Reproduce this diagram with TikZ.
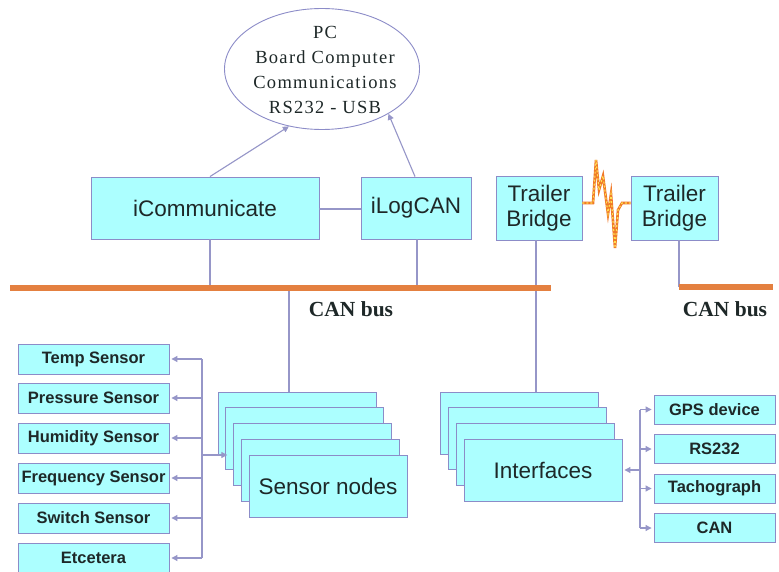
\documentclass[tikz,border=0pt]{standalone}
\usepackage{fontspec}
\setmainfont{Liberation Serif}
\setsansfont{Liberation Sans}
\usetikzlibrary{shapes.geometric,arrows.meta}
\definecolor{boxc}{RGB}{172,255,255}
\definecolor{bordc}{RGB}{140,140,200}
\definecolor{linec}{RGB}{150,150,200}
\definecolor{busc}{RGB}{228,128,64}
\definecolor{boltc}{RGB}{240,120,40}
\definecolor{bolty}{RGB}{255,225,80}
\definecolor{txtc}{RGB}{30,40,40}
\tikzset{
  box/.style={draw=bordc, fill=boxc, line width=0.9pt, inner sep=0pt, text=txtc},
  bigbox/.style={box, font=\sffamily\fontsize{22.5}{25}\selectfont, align=center},
  smallbox/.style={box, font=\sffamily\bfseries\fontsize{16.5}{18}\selectfont},
  stackbox/.style={box, minimum width=158pt, minimum height=62pt},
  conn/.style={draw=linec, line width=1.1pt},
  arr/.style={conn, -{Triangle[length=6pt,width=6pt]}},
  bus/.style={draw=busc, line width=6pt},
  pcell/.style={ellipse, draw=bordc, fill=white, line width=0.9pt, minimum width=195pt, minimum height=121pt, inner sep=0pt},
  bustxt/.style={font=\rmfamily\bfseries\fontsize{21.5}{22}\selectfont, text=txtc, inner sep=0pt}
}
\begin{document}
\begin{tikzpicture}[x=1pt,y=-1pt]
\useasboundingbox (0,0) rectangle (779,572);
\fill[white] (0,0) rectangle (779,572);

% PC ellipse
\node[pcell] (pc) at (322,69) {};
\node[align=center, font=\rmfamily\fontsize{18.5}{25}\selectfont\addfontfeatures{LetterSpace=7}, text=txtc, inner sep=0pt] (pctext) at (325,70)
  {PC\\Board Computer\\Communications\\RS232 - USB};

% top row
\node[bigbox, minimum width=228pt, minimum height=62pt] (icomm) at (205,208) {iCommunicate};
\node[bigbox, minimum width=110pt, minimum height=62pt] (ilog) at (416,208) {iLogCAN};
\node[bigbox, minimum width=86pt, minimum height=64pt] (tb1) at (539,208) {Trailer\\Bridge};
\node[bigbox, minimum width=87pt, minimum height=64pt] (tb2) at (674.5,208) {Trailer\\Bridge};

% arrows to PC
\draw[arr] ([xshift=5pt]icomm.north) -- (pc.240);
\draw[arr] ([xshift=-1pt]ilog.north) -- (pc.326);
\draw[conn] (icomm.east |- 0,209) -- (ilog.west |- 0,209);

% bus coordinates
\coordinate (bL) at (10,288);
\coordinate (bR) at (551,288);
\coordinate (b2L) at (679,287);
\coordinate (b2R) at (773,287);

% sensor node stack
\foreach \i in {0,...,4} {
  \node[stackbox] (s\i) at ({218+7.75*\i+79},{392+15.75*\i+31}) {};
}
\node[font=\sffamily\fontsize{22.5}{25}\selectfont, text=txtc, inner sep=0pt] (snlabel) at (s4.center) {Sensor nodes};

% interfaces stack
\foreach \i in {0,...,3} {
  \node[stackbox] (i\i) at ({440+8*\i+79},{392+15.67*\i+31}) {};
}
\node[font=\sffamily\fontsize{22.5}{25}\selectfont, text=txtc, inner sep=0pt] (iflabel) at (i3.center) {Interfaces};

% vertical connectors to bus
\draw[conn] ([xshift=5pt]icomm.south) -- ([xshift=5pt]icomm.south |- bL);
\draw[conn] ([xshift=1pt]ilog.south) -- ([xshift=1pt]ilog.south |- bL);
\draw[conn] ([xshift=-8pt]s0.north) -- ([xshift=-8pt]s0.north |- bL);
\draw[conn] ([xshift=-3pt]tb1.south) -- ([xshift=-3pt]tb1.south |- i0.north);
\draw[conn] (tb2.south -| b2L) -- (b2L);

% buses
\draw[bus] (bL) -- (bR);
\draw[bus] (b2L) -- (b2R);
\node[bustxt] (cb1) at (351,309) {CAN bus};
\node[bustxt] (cb2) at (725,309) {CAN bus};

% lightning
\draw[boltc, line width=2.6pt, line join=miter]
  ([yshift=5pt]tb1.east) -- (593,203) -- (596,160) -- (599,190) -- (603,176) -- (608,214)
  -- (611,194) -- (615,248) -- (618,210) -- (622,203) -- ([yshift=5pt]tb2.west);
\draw[bolty, line width=1.1pt, dash pattern=on 2pt off 2pt]
  ([yshift=5pt]tb1.east) -- (593,203) -- (596,160) -- (599,190) -- (603,176) -- (608,214)
  -- (611,194) -- (615,248) -- (618,210) -- (622,203) -- ([yshift=5pt]tb2.west);

% sensors
\node[smallbox, minimum width=151pt, minimum height=30pt] (temp) at (93.5,359) {Temp Sensor};
\node[smallbox, minimum width=151pt, minimum height=30pt] (press) at (93.5,398) {Pressure Sensor};
\node[smallbox, minimum width=151pt, minimum height=30pt] (humid) at (93.5,438) {Humidity Sensor};
\node[smallbox, minimum width=151pt, minimum height=30pt] (freq) at (93.5,478) {Frequency Sensor};
\node[smallbox, minimum width=151pt, minimum height=30pt] (swit) at (93.5,518) {Switch Sensor};
\node[smallbox, minimum width=151pt, minimum height=30pt] (etc) at (93.5,558) {Etcetera};

\coordinate (shub) at (202,455);
\draw[conn] (temp.east -| shub) -- (etc.east -| shub);
\foreach \n in {temp,press,humid,freq,swit,etc} {
  \draw[arr, shorten >=2pt] (\n.east -| shub) -- (\n.east);
}
\draw[arr] (shub) -- ([xshift=2pt]s1.west |- shub);

% interfaces
\node[smallbox, minimum width=121pt, minimum height=29pt] (gps) at (714.5,409.5) {GPS device};
\node[smallbox, minimum width=121pt, minimum height=29pt] (rs) at (714.5,449) {RS232};
\node[smallbox, minimum width=121pt, minimum height=29pt] (tacho) at (714.5,488.5) {Tachograph};
\node[smallbox, minimum width=121pt, minimum height=29pt] (canb) at (714.5,528) {CAN};

\coordinate (ihub) at (640,470);
\draw[conn] (gps.west -| ihub) -- (canb.west -| ihub);
\foreach \n in {gps,rs,tacho,canb} {
  \draw[arr, shorten >=2pt] (\n.west -| ihub) -- (\n.west);
}
\draw[arr, shorten >=2pt] (ihub) -- (i3.east |- ihub);
\end{tikzpicture}
\end{document}
